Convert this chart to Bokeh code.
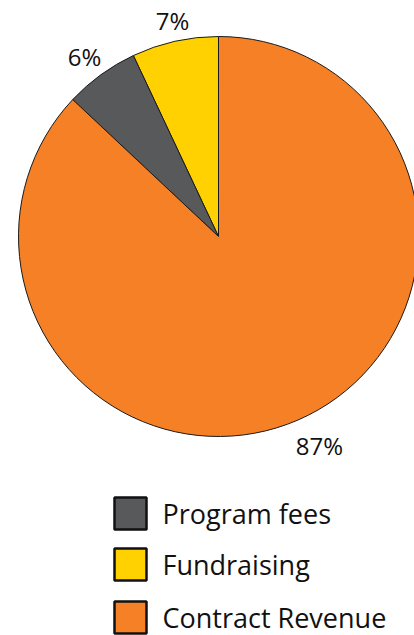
import math
from bokeh.plotting import figure
from bokeh.models import Range1d, ColumnDataSource
from bokeh.core.properties import value
from bokeh.embed import file_html
from bokeh.resources import INLINE

# Data (drawn counter-clockwise starting at 12 o'clock)
categories = ["Fundraising", "Program fees", "Contract Revenue"]
values = [7, 6, 87]
colors = ["#FFD100", "#58595B", "#F58025"]
pct_labels = ["7%", "6%", "87%"]

legend_order = ["Program fees", "Fundraising", "Contract Revenue"]

FONT = "Open Sans"

W, H = 414, 635
p = figure(width=W, height=H, output_backend="svg", toolbar_location=None,
           x_range=Range1d(0, W), y_range=Range1d(0, H),
           min_border=0, border_fill_color="white")
p.axis.visible = False
p.grid.visible = False
p.outline_line_color = None

def Y(yref):
    return H - yref

cx, cy, r = 218, Y(236), 200
total = sum(values)
starts, ends = [], []
a = math.pi / 2
for v in values:
    starts.append(a)
    a += 2 * math.pi * v / total
    ends.append(a)

src = ColumnDataSource(dict(cat=categories, val=values, color=colors,
                            start=starts, end=ends))
p.wedge(x=cx, y=cy, radius=r, start_angle="start", end_angle="end",
        fill_color="color", line_color="#1a1a1a", line_width=1, source=src)

# Percentage labels
label_pos = [(172, 20), (84, 56), (319, 445)]
p.text(x=[lp[0] for lp in label_pos], y=[Y(lp[1]) for lp in label_pos],
       text=pct_labels, text_align="center", text_baseline="middle",
       text_font=value(FONT), text_font_size="24px", text_color="#111111")

# Legend
cmap = dict(zip(categories, colors))
rows_y = [513, 564, 617]
p.rect(x=[130] * 3, y=[Y(v) for v in rows_y], width=32, height=32,
       fill_color=[cmap[c] for c in legend_order], line_color="#111111",
       line_width=2.5)
p.text(x=[162] * 3, y=[Y(v) for v in rows_y], text=legend_order,
       text_align="left", text_baseline="middle", text_font=value(FONT),
       text_font_size="27px", text_color="#111111")

open("out.html", "w").write(file_html(p, INLINE))
